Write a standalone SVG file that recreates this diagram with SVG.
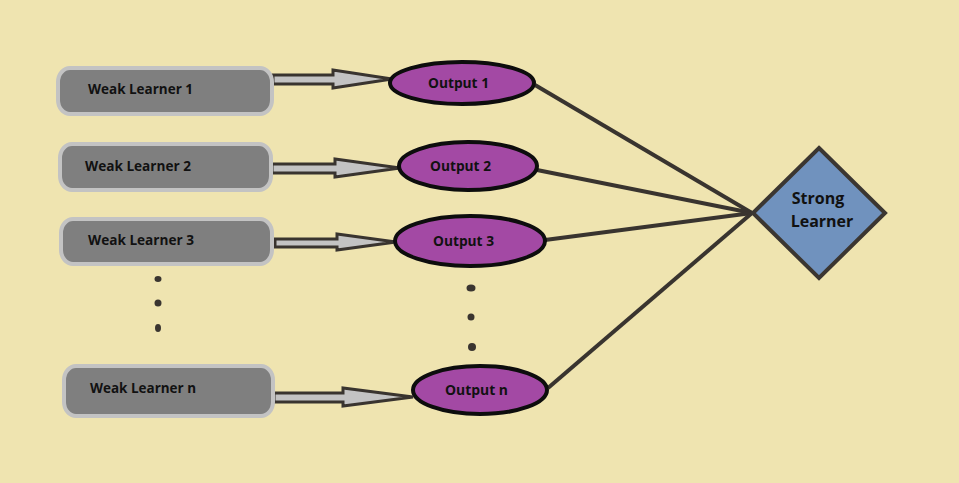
<svg xmlns="http://www.w3.org/2000/svg" width="959" height="483" viewBox="0 0 959 483">
<style>
.box{fill:#7f7f7f;stroke:#c3c3c3;stroke-width:4}
.arr{fill:#c3c3c3;stroke:#39342f;stroke-width:3;stroke-linejoin:miter}
.out{fill:#a349a4;stroke:#0d0d0d;stroke-width:4}
.ln{stroke:#39342f;stroke-width:4;fill:none}
.dot{fill:#3a3530}
.t{font-family:"Open Sans","Liberation Sans",sans-serif;font-weight:bold;font-size:13.5px;fill:#111}
.s{font-family:"Open Sans","Liberation Sans",sans-serif;font-weight:bold;font-size:16px;fill:#111;text-anchor:middle}
</style>
<rect width="959" height="483" fill="#efe4b0"/>
<g id="connectors">
<polygon class="arr" points="273,75 333,75 333,70 392,79 333,88 333,84 273,84"/>
<polygon class="arr" points="272,164 335,164 335,159 400,168 335,177 335,173 272,173"/>
<polygon class="arr" points="275,239 337,239 337,234 396,242 337,250 337,247 275,247"/>
<polygon class="arr" points="274,393 343,393 343,388 413,397 343,406 343,402 274,402"/>
<line class="ln" x1="535" y1="85" x2="752" y2="213"/>
<line class="ln" x1="537" y1="170" x2="752" y2="213"/>
<line class="ln" x1="545" y1="240" x2="752" y2="213"/>
<line class="ln" x1="548" y1="388" x2="752" y2="213"/>
</g>
<g id="wl1"><rect class="box" x="58" y="68" width="214" height="46" rx="12" ry="14"/><text class="t" x="88" y="94" textLength="105" lengthAdjust="spacingAndGlyphs">Weak Learner 1</text></g>
<g id="wl2"><rect class="box" x="60" y="144" width="211" height="46" rx="12" ry="14"/><text class="t" x="85" y="171" textLength="106" lengthAdjust="spacingAndGlyphs">Weak Learner 2</text></g>
<g id="wl3"><rect class="box" x="61" y="219" width="211" height="45" rx="12" ry="14"/><text class="t" x="88" y="245" textLength="106" lengthAdjust="spacingAndGlyphs">Weak Learner 3</text></g>
<g id="wln"><rect class="box" x="64" y="366" width="209" height="50" rx="12" ry="14"/><text class="t" x="90" y="393" textLength="106" lengthAdjust="spacingAndGlyphs">Weak Learner n</text></g>
<g id="dots-left"><ellipse class="dot" cx="158" cy="279" rx="3.5" ry="3"/><ellipse class="dot" cx="158" cy="303" rx="3.5" ry="3.5"/><ellipse class="dot" cx="158" cy="328" rx="3" ry="4"/></g>
<g id="out1"><ellipse class="out" cx="462" cy="83" rx="72" ry="21"/><text class="t" x="428" y="88" textLength="61" lengthAdjust="spacingAndGlyphs">Output 1</text></g>
<g id="out2"><ellipse class="out" cx="468" cy="166" rx="69" ry="24"/><text class="t" x="430" y="171" textLength="61" lengthAdjust="spacingAndGlyphs">Output 2</text></g>
<g id="out3"><ellipse class="out" cx="470" cy="241" rx="75" ry="25"/><text class="t" x="433" y="246" textLength="61" lengthAdjust="spacingAndGlyphs">Output 3</text></g>
<g id="outn"><ellipse class="out" cx="480" cy="390" rx="67" ry="24"/><text class="t" x="445" y="395" textLength="63" lengthAdjust="spacingAndGlyphs">Output n</text></g>
<g id="dots-right"><ellipse class="dot" cx="471" cy="288" rx="4.5" ry="3.5"/><ellipse class="dot" cx="471" cy="317" rx="3.5" ry="3.5"/><ellipse class="dot" cx="472" cy="347" rx="4" ry="4"/></g>
<g id="strong"><polygon points="819,148 885,213 819,278 753,213" fill="#7092be" stroke="#3b3631" stroke-width="4" stroke-linejoin="miter"/><text class="s" x="818" y="204">Strong</text><text class="s" x="822" y="227">Learner</text></g>
</svg>
